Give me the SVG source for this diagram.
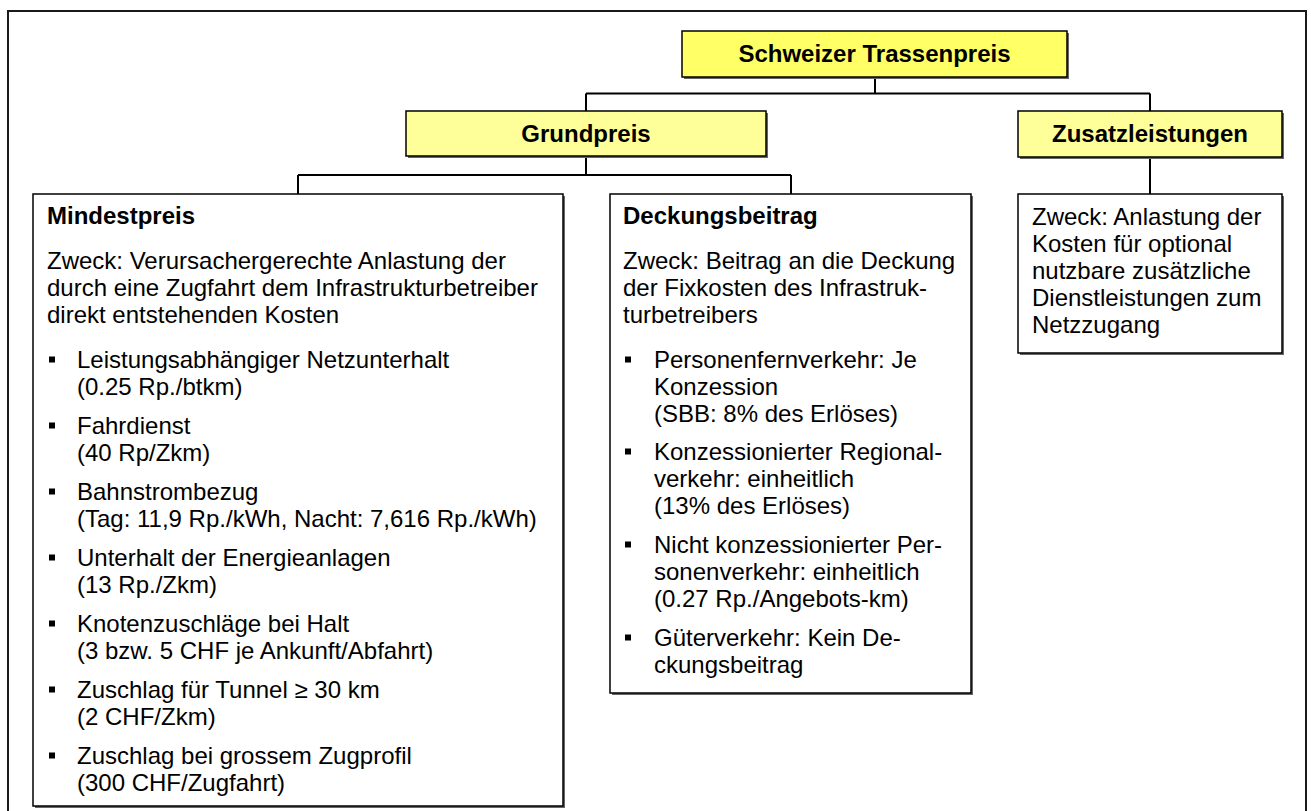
<svg xmlns="http://www.w3.org/2000/svg" width="1311" height="811" viewBox="0 0 1311 811">
<style>
.frame{fill:none;stroke:#1a1a1a;stroke-width:2}
.hbox{stroke:#000;stroke-width:1.5}
.box{fill:#fff;stroke:#000;stroke-width:1.5}
.shadow{fill:#666}
.y1{fill:#ffff66}
.y2{fill:#ffff99}
.conn{stroke:#000;stroke-width:2;fill:none}
text{font-family:"Liberation Sans",Arial,sans-serif;font-size:24px;fill:#000}
.h{font-weight:bold}
.c{text-anchor:middle}
.b{fill:#000}
</style>
<rect x="0" y="0" width="1311" height="811" fill="#fff"/>
<rect class="frame" x="8" y="11" width="1298" height="830"/>

<g id="connectors">
<path class="conn" d="M875 77 V93.5 M586 93.5 H1150 M586 93.5 V111 M1150 93.5 V111"/>
<path class="conn" d="M586 156 V175 M298 175 H791 M298 175 V194 M791 175 V194"/>
<path class="conn" d="M1150 157 V194"/>
</g>

<g id="node-trassenpreis">
<rect class="shadow" x="684" y="33" width="385" height="46"/>
<rect class="hbox y1" x="682" y="31" width="385" height="46"/>
<text class="h c" x="874.5" y="62">Schweizer Trassenpreis</text>
</g>

<g id="node-grundpreis">
<rect class="shadow" x="408" y="113" width="360" height="45"/>
<rect class="hbox y2" x="406" y="111" width="360" height="45"/>
<text class="h c" x="586" y="141.5">Grundpreis</text>
</g>

<g id="node-zusatzleistungen">
<rect class="shadow" x="1020" y="113" width="264" height="46"/>
<rect class="hbox y2" x="1018" y="111" width="264" height="46"/>
<text class="h c" x="1150" y="141.5">Zusatzleistungen</text>
</g>

<g id="node-mindestpreis">
<rect class="shadow" x="35" y="196" width="530" height="612"/>
<rect class="box" x="33" y="194" width="530" height="612"/>
<text class="h" x="47" y="224">Mindestpreis</text>
<text x="47" y="269">Zweck: Verursachergerechte Anlastung der</text>
<text x="47" y="296">durch eine Zugfahrt dem Infrastrukturbetreiber</text>
<text x="47" y="323">direkt entstehenden Kosten</text>
<rect class="b" x="49" y="356.5" width="6" height="6"/>
<text x="77" y="368">Leistungsabhängiger Netzunterhalt</text>
<text x="77" y="395">(0.25 Rp./btkm)</text>
<rect class="b" x="49" y="422.5" width="6" height="6"/>
<text x="77" y="434">Fahrdienst</text>
<text x="77" y="461">(40 Rp/Zkm)</text>
<rect class="b" x="49" y="488.5" width="6" height="6"/>
<text x="77" y="500">Bahnstrombezug</text>
<text x="77" y="527">(Tag: 11,9 Rp./kWh, Nacht: 7,616 Rp./kWh)</text>
<rect class="b" x="49" y="554.5" width="6" height="6"/>
<text x="77" y="566">Unterhalt der Energieanlagen</text>
<text x="77" y="593">(13 Rp./Zkm)</text>
<rect class="b" x="49" y="620.5" width="6" height="6"/>
<text x="77" y="632">Knotenzuschläge bei Halt</text>
<text x="77" y="659">(3 bzw. 5 CHF je Ankunft/Abfahrt)</text>
<rect class="b" x="49" y="686.5" width="6" height="6"/>
<text x="77" y="698">Zuschlag für Tunnel ≥ 30 km</text>
<text x="77" y="725">(2 CHF/Zkm)</text>
<rect class="b" x="49" y="752.5" width="6" height="6"/>
<text x="77" y="764">Zuschlag bei grossem Zugprofil</text>
<text x="77" y="791">(300 CHF/Zugfahrt)</text>
</g>

<g id="node-deckungsbeitrag">
<rect class="shadow" x="612" y="196" width="361" height="499"/>
<rect class="box" x="610" y="194" width="361" height="499"/>
<text class="h" x="623" y="224">Deckungsbeitrag</text>
<text x="623" y="269">Zweck: Beitrag an die Deckung</text>
<text x="623" y="296">der Fixkosten des Infrastruk-</text>
<text x="623" y="323">turbetreibers</text>
<rect class="b" x="625" y="356.5" width="6" height="6"/>
<text x="654" y="368">Personenfernverkehr: Je</text>
<text x="654" y="395">Konzession</text>
<text x="654" y="422">(SBB: 8% des Erlöses)</text>
<rect class="b" x="625" y="448.5" width="6" height="6"/>
<text x="654" y="460">Konzessionierter Regional-</text>
<text x="654" y="487">verkehr: einheitlich</text>
<text x="654" y="514">(13% des Erlöses)</text>
<rect class="b" x="625" y="541.5" width="6" height="6"/>
<text x="654" y="553">Nicht konzessionierter Per-</text>
<text x="654" y="580">sonenverkehr: einheitlich</text>
<text x="654" y="607">(0.27 Rp./Angebots-km)</text>
<rect class="b" x="625" y="634.5" width="6" height="6"/>
<text x="654" y="646">Güterverkehr: Kein De-</text>
<text x="654" y="673">ckungsbeitrag</text>
</g>

<g id="node-zusatz-text">
<rect class="shadow" x="1020" y="196" width="264" height="159"/>
<rect class="box" x="1018" y="194" width="264" height="159"/>
<text x="1032" y="225">Zweck: Anlastung der</text>
<text x="1032" y="252">Kosten für optional</text>
<text x="1032" y="279">nutzbare zusätzliche</text>
<text x="1032" y="306">Dienstleistungen zum</text>
<text x="1032" y="333">Netzzugang</text>
</g>
</svg>
